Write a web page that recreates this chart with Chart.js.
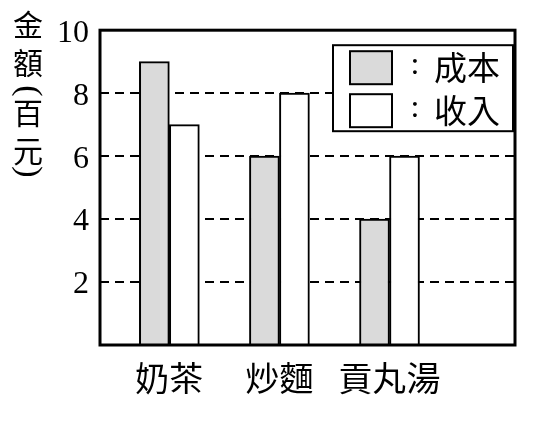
<!DOCTYPE html>
<html>
<head>
<meta charset="utf-8">
<script src="https://cdn.jsdelivr.net/npm/chart.js@4.4.1/dist/chart.umd.min.js"></script>
<style>
html,body{margin:0;padding:0;background:#fff;}
#wrap{width:560px;height:445px;}
</style>
</head>
<body>
<div id="wrap"><canvas id="c" width="560" height="445"></canvas></div>
<script>
// ---- data ----
const categories = ['奶茶', '炒麵', '貢丸湯'];
const costValues = [9, 6, 4];
const incomeValues = [7, 8, 6];
const seriesNames = ['成本', '收入'];
const yTickLabels = [2, 4, 6, 8, 10];
const yTitle = '金額(百元)';

const CJK = '"Noto Sans CJK TC", "Noto Sans CJK SC", sans-serif';
const SERIF = '"Liberation Serif", "DejaVu Serif", serif';

const framePlugin = {
  id: 'frame',
  afterDatasetsDraw(chart) {
    const {ctx, chartArea: a} = chart;
    ctx.save();
    ctx.strokeStyle = '#000';
    ctx.lineWidth = 3;
    ctx.strokeRect(a.left, a.top, a.right - a.left, a.bottom - a.top);
    ctx.restore();
  }
};

const legendPlugin = {
  id: 'boxLegend',
  afterDraw(chart) {
    const {ctx, chartArea: a} = chart;
    const w = 180, h = 86;
    const x0 = a.right - 2 - w, y0 = a.top + 15;
    ctx.save();
    ctx.fillStyle = '#fff';
    ctx.fillRect(x0, y0, w, h);
    ctx.strokeStyle = '#000';
    ctx.lineWidth = 2;
    ctx.strokeRect(x0, y0, w, h);
    chart.data.datasets.forEach((ds, i) => {
      const sy = y0 + 6 + i * 43;
      ctx.fillStyle = ds.backgroundColor;
      ctx.fillRect(x0 + 17, sy, 42, 33);
      ctx.lineWidth = 2;
      ctx.strokeRect(x0 + 17, sy, 42, 33);
      const cy = sy + 16.5;
      ctx.fillStyle = '#000';
      ctx.textBaseline = 'middle';
      ctx.textAlign = 'center';
      ctx.font = '32px ' + SERIF;
      ctx.fillText(':', x0 + 82, cy - 2);
      ctx.textAlign = 'left';
      ctx.font = '33px ' + CJK;
      ctx.fillText(ds.label, x0 + 101, cy);
    });
    ctx.restore();
  }
};

const titlePlugin = {
  id: 'vTitle',
  afterDraw(chart) {
    const ctx = chart.ctx;
    const chars = Array.from(yTitle);
    const cx = 28;
    let cy = 24.5;
    let prev = null;
    ctx.save();
    ctx.fillStyle = '#000';
    ctx.textAlign = 'center';
    ctx.textBaseline = 'middle';
    chars.forEach((ch) => {
      const paren = (ch === '(' || ch === ')');
      if (prev !== null) {
        const prevParen = (prev === '(' || prev === ')');
        if (paren) cy += (ch === '(' ? 28.5 : 21);
        else if (prevParen) cy += 22;
        else cy += 38;
      }
      if (paren) {
        ctx.save();
        ctx.translate(cx, cy);
        ctx.rotate(Math.PI / 2);
        ctx.font = '34px ' + SERIF;
        ctx.textAlign = 'center';
        ctx.textBaseline = 'middle';
        ctx.fillText(ch, 0, 0);
        ctx.restore();
      } else {
        ctx.font = '30px ' + CJK;
        ctx.fillText(ch, cx, cy);
      }
      prev = ch;
    });
    ctx.restore();
  }
};

new Chart(document.getElementById('c'), {
  type: 'bar',
  data: {
    datasets: [
      {
        label: seriesNames[0],
        data: costValues.map((v, i) => ({x: i, y: v})),
        backgroundColor: '#dadada',
        borderColor: '#000',
        borderWidth: 2,
        barThickness: 30
      },
      {
        label: seriesNames[1],
        data: incomeValues.map((v, i) => ({x: i, y: v})),
        backgroundColor: '#ffffff',
        borderColor: '#000',
        borderWidth: 2,
        barThickness: 30
      }
    ]
  },
  options: {
    responsive: false,
    animation: false,
    devicePixelRatio: 1,
    layout: {padding: {left: 0, top: 28, right: 45, bottom: 0}},
    plugins: {legend: {display: false}, tooltip: {enabled: false}},
    scales: {
      x: {
        type: 'linear',
        offset: false,
        min: -0.63,
        max: 3.14,
        grid: {display: false, offset: false},
        border: {display: false},
        afterBuildTicks: (axis) => { axis.ticks = categories.map((_, i) => ({value: i})); },
        afterFit: (s) => { s.height = 100; },
        ticks: {
          autoSkip: false,
          maxRotation: 0,
          padding: 5,
          color: '#000',
          font: {family: CJK, size: 34},
          callback: (v) => categories[v] ?? ''
        }
      },
      y: {
        min: 0,
        max: 10,
        afterFit: (s) => { s.width = 100; },
        grid: {
          drawTicks: false,
          color: (c) => (c.tick && c.tick.value > 0 && c.tick.value < 10) ? '#000' : 'rgba(0,0,0,0)',
          lineWidth: 2
        },
        border: {display: false, dash: [9, 6]},
        ticks: {
          stepSize: 2,
          padding: 11,
          labelOffset: 3,
          color: '#000',
          font: {family: SERIF, size: 32},
          callback: (v) => yTickLabels.includes(v) ? String(v) : ''
        }
      }
    }
  },
  plugins: [framePlugin, legendPlugin, titlePlugin]
});
</script>
</body>
</html>
